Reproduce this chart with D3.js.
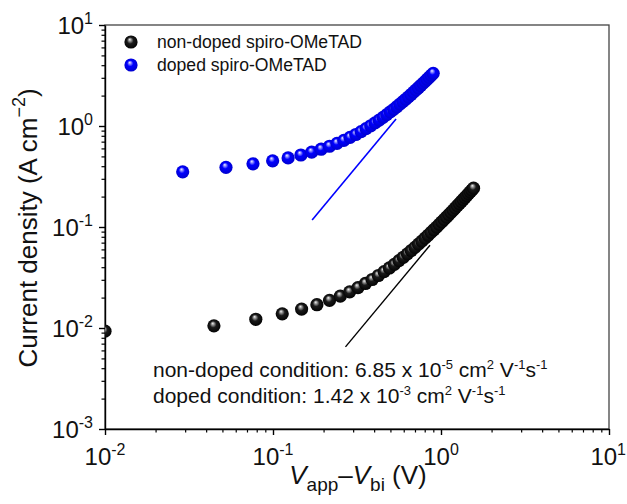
<!DOCTYPE html>
<html>
<head>
<meta charset="UTF-8">
<style>
  body { margin: 0; background: #fff; }
  svg { font-family: "Liberation Sans", Arial, sans-serif; }
  .axis path, .axis line { stroke: #000; stroke-width: 1.4px; }
  .minor line { stroke-width: 1.2px; }
  .ticklab { font-size: 24px; fill: #111; }
  .title { font-size: 26px; fill: #111; }
  .legend { font-size: 17.6px; fill: #111; }
  .note { font-size: 21px; fill: #111; }
</style>
<script src="https://d3js.org/d3.v7.min.js"></script>
</head>
<body>
<svg id="chart"></svg>
<script>
// V_app - V_bi (V) and current density (A cm^-2)
const xUndoped = [0.01, 0.0445, 0.079, 0.1135, 0.148, 0.1825, 0.217, 0.2515, 0.286, 0.3205,
  0.355, 0.3895, 0.424, 0.4585, 0.493, 0.5275, 0.562, 0.5965, 0.631, 0.6655,
  0.700, 0.7345, 0.769, 0.8035, 0.838, 0.8725, 0.907, 0.9415, 0.976, 1.0105,
  1.045, 1.0795, 1.114, 1.1485, 1.183, 1.2175, 1.252, 1.2865, 1.321, 1.3555,
  1.390, 1.4245, 1.459, 1.4935, 1.528, 1.5625];
const yUndoped = [0.0093, 0.0105, 0.0122, 0.0138, 0.0154, 0.0170, 0.0188, 0.0207, 0.0228, 0.0251,
  0.0276, 0.0302, 0.0331, 0.0361, 0.0393, 0.0427, 0.0464, 0.0502, 0.0542, 0.0585,
  0.0629, 0.0676, 0.0725, 0.0775, 0.0828, 0.0883, 0.0940, 0.0999, 0.1060, 0.1123,
  0.1188, 0.1256, 0.1325, 0.1397, 0.1471, 0.1547, 0.1625, 0.1705, 0.1787, 0.1871,
  0.1958, 0.2046, 0.2137, 0.2230, 0.2325, 0.2422];

const xDoped = [0.029, 0.0525, 0.076, 0.0995, 0.123, 0.1465, 0.170, 0.1935, 0.217, 0.2405,
  0.264, 0.2875, 0.311, 0.3345, 0.358, 0.3815, 0.405, 0.4285, 0.452, 0.4755,
  0.499, 0.5225, 0.546, 0.5695, 0.593, 0.6165, 0.640, 0.6635, 0.687, 0.7105,
  0.734, 0.7575, 0.781, 0.8045, 0.828, 0.8515, 0.875, 0.8985];
const yDoped = [0.352, 0.390, 0.422, 0.452, 0.483, 0.516, 0.551, 0.589, 0.630, 0.674,
  0.720, 0.771, 0.824, 0.881, 0.942, 1.005, 1.073, 1.144, 1.218, 1.296,
  1.378, 1.463, 1.552, 1.645, 1.741, 1.840, 1.944, 2.051, 2.162, 2.276,
  2.394, 2.516, 2.642, 2.771, 2.904, 3.040, 3.180, 3.324];

// SCLC fit lines (J ~ V^2), end points
const fitUndoped = [[0.27, 0.0065], [0.86, 0.0660]];
const fitDoped = [[0.171, 0.117], [0.54, 1.170]];

const seriesNames = ['non-doped spiro-OMeTAD', 'doped spiro-OMeTAD'];
const notes = [
  ['non-doped condition: 6.85 x 10', '-5', ' cm', '2', ' V', '-1', 's', '-1'],
  ['doped condition: 1.42 x 10', '-3', ' cm', '2', ' V', '-1', 's', '-1']
];

const xTicks = [0.01, 0.1, 1, 10];
const xTickExp = ['-2', '-1', '0', '1'];
const yTicks = [0.001, 0.01, 0.1, 1, 10];
const yTickExp = ['-3', '-2', '-1', '0', '1'];

const width = 627, height = 504;
const margin = {top: 25, right: 18, bottom: 75, left: 105};

const svg = d3.select('#chart').attr('width', width).attr('height', height);

const x = d3.scaleLog().domain([0.01, 10]).range([margin.left, width - margin.right]);
const y = d3.scaleLog().domain([0.001, 10]).range([height - margin.bottom, margin.top]);

function minors(ticks) {
  const out = [];
  ticks.slice(0, -1).forEach(function(t) {
    for (let k = 2; k <= 9; k++) out.push(t * k);
  });
  return out;
}

// gradients for the sphere markers
const defs = svg.append('defs');
function ball(id, stops) {
  const g = defs.append('radialGradient').attr('id', id)
    .attr('cx', '50%').attr('cy', '50%').attr('r', '55%')
    .attr('fx', '40%').attr('fy', '30%');
  stops.forEach(function(s) {
    g.append('stop').attr('offset', s[0]).attr('stop-color', s[1]);
  });
}
ball('gBlack', [[0, '#f4f4f4'], [0.18, '#9a9a9a'], [0.45, '#1a1a1a'], [1, '#000']]);
ball('gBlue', [[0, '#f0f0ff'], [0.18, '#8c8cff'], [0.42, '#0000ff'], [1, '#0000c8']]);

defs.append('clipPath').attr('id', 'plotClip')
  .append('rect')
  .attr('x', x.range()[0]).attr('y', y.range()[1])
  .attr('width', x.range()[1] - x.range()[0])
  .attr('height', y.range()[0] - y.range()[1]);

// frame
svg.append('rect')
  .attr('x', x.range()[0]).attr('y', y.range()[1])
  .attr('width', x.range()[1] - x.range()[0])
  .attr('height', y.range()[0] - y.range()[1])
  .attr('fill', 'none').attr('stroke', '#444').attr('stroke-width', 1.3);

// axes
svg.append('g').attr('class', 'axis')
  .attr('transform', 'translate(0,' + y.range()[0] + ')')
  .call(d3.axisBottom(x).tickValues(xTicks).tickSize(6).tickSizeOuter(0).tickFormat(''));
svg.append('g').attr('class', 'axis minor')
  .attr('transform', 'translate(0,' + y.range()[0] + ')')
  .call(d3.axisBottom(x).tickValues(minors(xTicks)).tickSize(3.5).tickFormat(''))
  .select('.domain').remove();

svg.append('g').attr('class', 'axis')
  .attr('transform', 'translate(' + x.range()[0] + ',0)')
  .call(d3.axisLeft(y).tickValues(yTicks).tickSize(6).tickSizeOuter(0).tickFormat(''));
svg.append('g').attr('class', 'axis minor')
  .attr('transform', 'translate(' + x.range()[0] + ',0)')
  .call(d3.axisLeft(y).tickValues(minors(yTicks)).tickSize(3.5).tickFormat(''))
  .select('.domain').remove();

// tick labels 10^n
function powLabel(sel, exp) {
  sel.append('tspan').text('10');
  sel.append('tspan').attr('dy', -10).style('font-size', '16px').text(exp);
}
xTicks.forEach(function(t, i) {
  const last = i === xTicks.length - 1;
  const tx = svg.append('text').attr('class', 'ticklab')
    .attr('x', last ? width - 1 : x(t)).attr('y', y.range()[0] + 36)
    .attr('text-anchor', last ? 'end' : 'middle');
  powLabel(tx, xTickExp[i]);
});
yTicks.forEach(function(t, i) {
  const ty = svg.append('text').attr('class', 'ticklab')
    .attr('x', x.range()[0] - 12).attr('y', y(t) + 9)
    .attr('text-anchor', 'end');
  powLabel(ty, yTickExp[i]);
});

// axis titles
const yt = svg.append('text').attr('class', 'title')
  .attr('transform', 'translate(37,' + 228 + ') rotate(-90)')
  .attr('text-anchor', 'middle');
yt.append('tspan').text('Current density (A cm');
yt.append('tspan').attr('dy', -12).style('font-size', '18px').text('\u22122');
yt.append('tspan').attr('dy', 12).text(')');

const xt = svg.append('text').attr('class', 'title')
  .attr('x', 358).attr('y', 484).attr('text-anchor', 'middle');
xt.append('tspan').style('font-style', 'italic').text('V');
xt.append('tspan').attr('dy', 7).style('font-size', '19px').text('app');
xt.append('tspan').attr('dy', -7).text('\u2013');
xt.append('tspan').style('font-style', 'italic').text('V');
xt.append('tspan').attr('dy', 7).style('font-size', '19px').text('bi');
xt.append('tspan').attr('dy', -7).text(' (V)');

// fit lines
const line = d3.line().x(function(d) { return x(d[0]); }).y(function(d) { return y(d[1]); });
svg.append('path').datum(fitUndoped).attr('d', line)
  .attr('fill', 'none').attr('stroke', '#000').attr('stroke-width', 1.4);
svg.append('path').datum(fitDoped).attr('d', line)
  .attr('fill', 'none').attr('stroke', '#0000ff').attr('stroke-width', 1.6);

// markers
const plot = svg.append('g').attr('clip-path', 'url(#plotClip)');
function drawSeries(xs, ys, grad) {
  plot.append('g').selectAll('circle')
    .data(xs.map(function(v, i) { return [v, ys[i]]; }))
    .enter().append('circle')
    .attr('cx', function(d) { return x(d[0]); })
    .attr('cy', function(d) { return y(d[1]); })
    .attr('r', 6.6)
    .attr('fill', 'url(#' + grad + ')');
}
drawSeries(xUndoped, yUndoped, 'gBlack');
drawSeries(xDoped, yDoped, 'gBlue');

// legend
['gBlack', 'gBlue'].forEach(function(g, i) {
  svg.append('circle').attr('cx', 131).attr('cy', 42 + i * 23).attr('r', 6.6)
    .attr('fill', 'url(#' + g + ')');
  svg.append('text').attr('class', 'legend')
    .attr('x', 157).attr('y', 48 + i * 23).text(seriesNames[i]);
});

// mobility notes
notes.forEach(function(parts, i) {
  const t = svg.append('text').attr('class', 'note')
    .attr('x', 153).attr('y', 377 + i * 26);
  parts.forEach(function(p, k) {
    const sup = k % 2 === 1;
    t.append('tspan')
      .attr('dy', sup ? -8 : (k > 0 ? 8 : 0))
      .style('font-size', sup ? '13px' : null)
      .text(p);
  });
});
</script>
</body>
</html>
